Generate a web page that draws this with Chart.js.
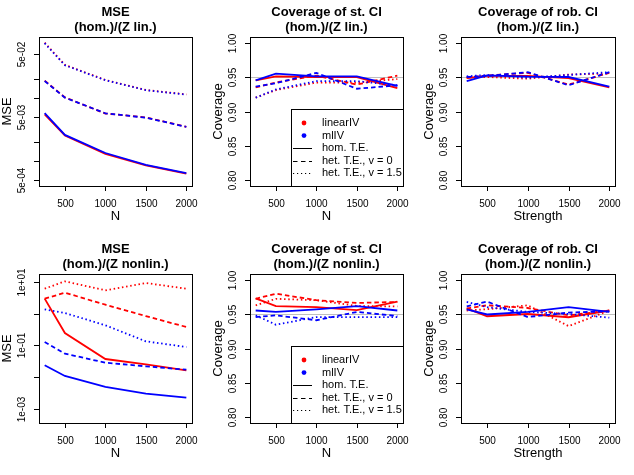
<!DOCTYPE html>
<html>
<head>
<meta charset="utf-8">
<script src="https://cdn.jsdelivr.net/npm/chart.js@4.4.0/dist/chart.umd.min.js"></script>
<style>
  body { margin: 0; background: #fff; width: 634px; height: 475px; overflow: hidden; position: relative; }
  .panel { position: absolute; }
</style>
</head>
<body>
<div class="panel" style="left:0;top:0;width:211px;height:237px"><canvas id="p1"></canvas></div>
<div class="panel" style="left:211px;top:0;width:211px;height:237px"><canvas id="p2"></canvas></div>
<div class="panel" style="left:422px;top:0;width:212px;height:237px"><canvas id="p3"></canvas></div>
<div class="panel" style="left:0;top:237px;width:211px;height:238px"><canvas id="p4"></canvas></div>
<div class="panel" style="left:211px;top:237px;width:211px;height:238px"><canvas id="p5"></canvas></div>
<div class="panel" style="left:422px;top:237px;width:212px;height:238px"><canvas id="p6"></canvas></div>
<script>
const sampleSizes = [250, 500, 1000, 1500, 2000];
const xTicks = [500, 1000, 1500, 2000];

const coverageTicks = [0.80, 0.85, 0.90, 0.95, 1.00];
const coverageTickLabels = ['0.80', '0.85', '0.90', '0.95', '1.00'];
const mseLinTicks = [5e-4, 1e-3, 2e-3, 5e-3, 1e-2, 2e-2, 5e-2];
const mseLinTickLabels = ['5e-04', '', '', '5e-03', '', '', '5e-02'];
const mseNonlinTicks = [1e-3, 1e-2, 1e-1, 1e0, 1e1];
const mseNonlinTickLabels = ['1e-03', '', '1e-01', '', '1e+01'];

// MSE, Z linear
const mseLinRedHom = [5.5e-3, 2.55e-3, 1.3e-3, 8.5e-4, 6.3e-4];
const mseLinBlueHom = [5.8e-3, 2.6e-3, 1.34e-3, 8.7e-4, 6.4e-4];
const mseLinRedHet0 = [0.019, 0.0103, 5.7e-3, 4.95e-3, 3.5e-3];
const mseLinBlueHet0 = [0.0188, 0.0102, 5.75e-3, 4.9e-3, 3.5e-3];
const mseLinRedHet15 = [0.0764, 0.0338, 0.0195, 0.0135, 0.0115];
const mseLinBlueHet15 = [0.075, 0.0335, 0.0193, 0.0134, 0.0114];

// coverage of standard CI, Z linear
const stLinRedHom = [0.945, 0.951, 0.950, 0.950, 0.934];
const stLinBlueHom = [0.945, 0.955, 0.951, 0.951, 0.937];
const stLinRedHet0 = [0.935, 0.942, 0.952, 0.939, 0.952];
const stLinBlueHet0 = [0.936, 0.941, 0.956, 0.933, 0.938];
const stLinRedHet15 = [0.920, 0.931, 0.942, 0.942, 0.947];
const stLinBlueHet15 = [0.920, 0.932, 0.944, 0.944, 0.938];

// coverage of robust CI, Z linear
const robLinRedHom = [0.9485, 0.9515, 0.9515, 0.9485, 0.935];
const robLinBlueHom = [0.944, 0.9525, 0.9505, 0.950, 0.936];
const robLinRedHet0 = [0.949, 0.952, 0.956, 0.939, 0.956];
const robLinBlueHet0 = [0.950, 0.9515, 0.957, 0.938, 0.957];
const robLinRedHet15 = [0.9495, 0.950, 0.9475, 0.9535, 0.955];
const robLinBlueHet15 = [0.951, 0.953, 0.949, 0.953, 0.957];

// MSE, Z nonlinear
const mseNonRedHom = [2.98, 0.245, 0.037, 0.0252, 0.0163];
const mseNonBlueHom = [0.0234, 0.0108, 4.84e-3, 2.97e-3, 2.22e-3];
const mseNonRedHet0 = [2.98, 4.6, 1.92, 0.835, 0.38];
const mseNonBlueHet0 = [0.128, 0.0546, 0.0283, 0.0218, 0.017];
const mseNonRedHet15 = [6.15, 10.5, 5.47, 9.3, 6.15];
const mseNonBlueHet15 = [1.37, 1.05, 0.43, 0.134, 0.0887];

// coverage of standard CI, Z nonlinear
const stNonRedHom = [0.9727, 0.9614, 0.960, 0.9556, 0.9678];
const stNonBlueHom = [0.9551, 0.953, 0.9566, 0.9614, 0.9551];
const stNonRedHet0 = [0.972, 0.9795, 0.970, 0.966, 0.9675];
const stNonBlueHet0 = [0.9456, 0.948, 0.941, 0.953, 0.947];
const stNonRedHet15 = [0.9626, 0.972, 0.970, 0.9617, 0.961];
const stNonBlueHet15 = [0.948, 0.9345, 0.9456, 0.9456, 0.9456];

// coverage of robust CI, Z nonlinear
const robNonRedHom = [0.958, 0.9468, 0.950, 0.9453, 0.9551];
const robNonBlueHom = [0.9566, 0.9493, 0.9532, 0.960, 0.9532];
const robNonRedHet0 = [0.958, 0.9626, 0.9587, 0.948, 0.955];
const robNonBlueHet0 = [0.961, 0.968, 0.9456, 0.952, 0.954];
const robNonRedHet15 = [0.955, 0.957, 0.9626, 0.9325, 0.955];
const robNonBlueHet15 = [0.9675, 0.960, 0.953, 0.950, 0.9447];

const legendMethods = ['linearIV', 'mlIV'];
const legendTypes = ['hom. T.E.', 'het. T.E., v = 0', 'het. T.E., v = 1.5'];

const RED = '#ff0000', BLUE = '#0000ff';
const DASHED = [4.5, 3], DOTTED = [1.5, 2.7];
const FONT = '"Liberation Sans", Arial, Helvetica, sans-serif';

function series(vals, color, dash) {
  return {
    data: sampleSizes.map((n, i) => ({ x: n, y: vals[i] })),
    borderColor: color,
    borderDash: dash,
    borderWidth: 1.8,
    pointRadius: 0,
    tension: 0,
    fill: false
  };
}

function makePanel(id, p) {
  // blue first so it is drawn on top
  const datasets = [
    series(p.blue[0], BLUE, []), series(p.blue[1], BLUE, DASHED), series(p.blue[2], BLUE, DOTTED),
    series(p.red[0], RED, []), series(p.red[1], RED, DASHED), series(p.red[2], RED, DOTTED)
  ];

  const rAxes = {
    id: 'rAxes',
    beforeDatasetsDraw(chart) {
      if (p.refLine === undefined) return;
      const ctx = chart.ctx, a = chart.chartArea;
      const y = Math.round(chart.scales.y.getPixelForValue(p.refLine)) + 0.5;
      ctx.save();
      ctx.strokeStyle = '#bebebe';
      ctx.lineWidth = 1;
      ctx.beginPath();
      ctx.moveTo(a.left, y);
      ctx.lineTo(a.right, y);
      ctx.stroke();
      ctx.restore();
    },
    afterDraw(chart) {
      const ctx = chart.ctx, a = chart.chartArea;
      const xs = chart.scales.x, ys = chart.scales.y;
      ctx.save();
      ctx.strokeStyle = '#000';
      ctx.fillStyle = '#000';
      ctx.lineWidth = 1;
      ctx.strokeRect(Math.round(a.left) + 0.5, Math.round(a.top) + 0.5,
        Math.round(a.right - a.left), Math.round(a.bottom - a.top));

      // x axis
      ctx.font = '10px ' + FONT;
      ctx.textAlign = 'center';
      ctx.textBaseline = 'middle';
      xTicks.forEach(v => {
        const x = Math.round(xs.getPixelForValue(v)) + 0.5;
        ctx.beginPath();
        ctx.moveTo(x, a.bottom);
        ctx.lineTo(x, a.bottom + 5);
        ctx.stroke();
        ctx.fillText(String(v), x, a.bottom + 18);
      });

      // y axis
      p.yTicks.forEach((v, i) => {
        const y = Math.round(ys.getPixelForValue(v)) + 0.5;
        ctx.beginPath();
        ctx.moveTo(a.left, y);
        ctx.lineTo(a.left - 5, y);
        ctx.stroke();
        if (p.yLabels[i]) {
          ctx.save();
          ctx.translate(a.left - 17, y);
          ctx.rotate(-Math.PI / 2);
          ctx.fillText(p.yLabels[i], 0, 0);
          ctx.restore();
        }
      });

      // axis titles
      ctx.font = '13px ' + FONT;
      ctx.fillText(p.xTitle, (a.left + a.right) / 2, a.bottom + 30);
      ctx.save();
      ctx.translate(7.5, (a.top + a.bottom) / 2);
      ctx.rotate(-Math.PI / 2);
      ctx.fillText(p.yTitle, 0, 0);
      ctx.restore();

      // main title
      ctx.font = 'bold 13px ' + FONT;
      ctx.fillText(p.title[0], (a.left + a.right) / 2, 12);
      ctx.fillText(p.title[1], (a.left + a.right) / 2, 27);

      // legend
      if (p.legend) {
        const lx = 80, ly = Math.round(a.bottom) - 77;
        ctx.fillStyle = '#fff';
        ctx.fillRect(lx + 0.5, ly + 0.5, Math.round(a.right) - lx, Math.round(a.bottom) - ly);
        ctx.strokeRect(lx + 0.5, ly + 0.5, Math.round(a.right) - lx, Math.round(a.bottom) - ly);
        ctx.font = '11px ' + FONT;
        ctx.textAlign = 'left';
        const rows = legendMethods.length + legendTypes.length;
        for (let i = 0; i < rows; i++) {
          const y = ly + 14 + i * 12.6;
          if (i < legendMethods.length) {
            ctx.fillStyle = i === 0 ? RED : BLUE;
            ctx.beginPath();
            ctx.arc(lx + 13, y, 2.4, 0, Math.PI * 2);
            ctx.fill();
          } else {
            const k = i - legendMethods.length;
            ctx.strokeStyle = '#000';
            ctx.setLineDash(k === 0 ? [] : (k === 1 ? [4.5, 3.5] : [1.2, 2.8]));
            ctx.beginPath();
            ctx.moveTo(lx + 2, Math.round(y) + 0.5);
            ctx.lineTo(lx + 21, Math.round(y) + 0.5);
            ctx.stroke();
            ctx.setLineDash([]);
          }
          ctx.fillStyle = '#000';
          ctx.fillText(i < legendMethods.length ? legendMethods[i] : legendTypes[i - legendMethods.length], lx + 31, y);
        }
      }
      ctx.restore();
    }
  };

  new Chart(document.getElementById(id), {
    type: 'line',
    data: { datasets: datasets },
    options: {
      responsive: true,
      maintainAspectRatio: false,
      animation: false,
      events: [],
      layout: { padding: { left: 39, right: p.right, top: 37, bottom: p.bottom } },
      plugins: { legend: { display: false }, tooltip: { enabled: false }, title: { display: false } },
      scales: {
        x: { type: 'linear', min: 180, max: 2070, display: false },
        y: { type: p.log ? 'logarithmic' : 'linear', min: p.yMin, max: p.yMax, display: false }
      }
    },
    plugins: [rAxes]
  });
}

makePanel('p1', {
  title: ['MSE', '(hom.)/(Z lin.)'], xTitle: 'N', yTitle: 'MSE',
  log: true, yMin: 4.0e-4, yMax: 0.0942, yTicks: mseLinTicks, yLabels: mseLinTickLabels,
  red: [mseLinRedHom, mseLinRedHet0, mseLinRedHet15],
  blue: [mseLinBlueHom, mseLinBlueHet0, mseLinBlueHet15],
  right: 19, bottom: 51
});
makePanel('p2', {
  title: ['Coverage of st. CI', '(hom.)/(Z lin.)'], xTitle: 'N', yTitle: 'Coverage',
  yMin: 0.792, yMax: 1.008, yTicks: coverageTicks, yLabels: coverageTickLabels, refLine: 0.95,
  red: [stLinRedHom, stLinRedHet0, stLinRedHet15],
  blue: [stLinBlueHom, stLinBlueHet0, stLinBlueHet15],
  legend: true, right: 19, bottom: 51
});
makePanel('p3', {
  title: ['Coverage of rob. CI', '(hom.)/(Z lin.)'], xTitle: 'Strength', yTitle: 'Coverage',
  yMin: 0.792, yMax: 1.008, yTicks: coverageTicks, yLabels: coverageTickLabels, refLine: 0.95,
  red: [robLinRedHom, robLinRedHet0, robLinRedHet15],
  blue: [robLinBlueHom, robLinBlueHet0, robLinBlueHet15],
  right: 19, bottom: 51
});
makePanel('p4', {
  title: ['MSE', '(hom.)/(Z nonlin.)'], xTitle: 'N', yTitle: 'MSE',
  log: true, yMin: 3.53e-4, yMax: 17.9, yTicks: mseNonlinTicks, yLabels: mseNonlinTickLabels,
  red: [mseNonRedHom, mseNonRedHet0, mseNonRedHet15],
  blue: [mseNonBlueHom, mseNonBlueHet0, mseNonBlueHet15],
  right: 19, bottom: 52
});
makePanel('p5', {
  title: ['Coverage of st. CI', '(hom.)/(Z nonlin.)'], xTitle: 'N', yTitle: 'Coverage',
  yMin: 0.792, yMax: 1.008, yTicks: coverageTicks, yLabels: coverageTickLabels, refLine: 0.95,
  red: [stNonRedHom, stNonRedHet0, stNonRedHet15],
  blue: [stNonBlueHom, stNonBlueHet0, stNonBlueHet15],
  legend: true, right: 19, bottom: 52
});
makePanel('p6', {
  title: ['Coverage of rob. CI', '(hom.)/(Z nonlin.)'], xTitle: 'Strength', yTitle: 'Coverage',
  yMin: 0.792, yMax: 1.008, yTicks: coverageTicks, yLabels: coverageTickLabels, refLine: 0.95,
  red: [robNonRedHom, robNonRedHet0, robNonRedHet15],
  blue: [robNonBlueHom, robNonBlueHet0, robNonBlueHet15],
  right: 19, bottom: 52
});
</script>
</body>
</html>
